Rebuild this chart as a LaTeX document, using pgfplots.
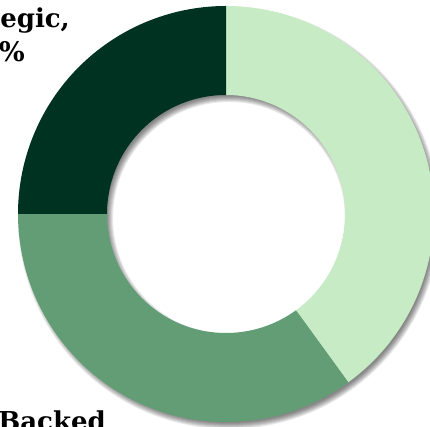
\documentclass[border=0pt]{standalone}
\usepackage{pgfplots}
\pgfplotsset{compat=1.18}
\usepackage{pgfplotstable}
\usepackage{fontspec}
\setmainfont{DejaVu Serif}

\definecolor{pielight}{RGB}{199,235,197}
\definecolor{piemid}{RGB}{98,157,117}
\definecolor{piedark}{RGB}{0,50,34}

% share of each slice, clockwise from 12 o'clock
\pgfplotstableread{
label value
Other 40
Backed 35
Strategic 25
}\piedata

\begin{document}
\begin{tikzpicture}
\pgfplotstablegetelem{0}{value}\of\piedata \pgfmathsetmacro\va{\pgfplotsretval}
\pgfplotstablegetelem{1}{value}\of\piedata \pgfmathsetmacro\vb{\pgfplotsretval}
\pgfplotstablegetelem{2}{value}\of\piedata \pgfmathsetmacro\vc{\pgfplotsretval}
\pgfmathsetmacro\aA{90}
\pgfmathsetmacro\aB{\aA-3.6*\va}
\pgfmathsetmacro\aC{\aB-3.6*\vb}
\pgfmathsetmacro\aD{\aC-3.6*\vc}
\def\cx{226}\def\cy{213}\def\R{208}\def\r{119}
\begin{axis}[
    name=ax,
    at={(0,0)}, anchor=south west,
    scale only axis,
    width=430pt, height=427pt,
    xmin=0, xmax=430, ymin=0, ymax=427,
    hide axis,
]
% soft shadow of the ring
\pgfplotsinvokeforeach{0,1,2,3,4,5,6}{
  \fill[black, opacity=0.085, even odd rule]
    (axis cs:{\cx+3},{\cy-4}) circle[radius={(\R-3+#1)*1pt}]
    (axis cs:{\cx+3},{\cy-4}) circle[radius={(\r+3-#1)*1pt}];
}
\fill[pielight] (axis cs:{\cx+\R*cos(\aA)},{\cy+\R*sin(\aA)})
  arc[start angle=\aA, end angle=\aB, radius=\R pt]
  -- (axis cs:{\cx+\r*cos(\aB)},{\cy+\r*sin(\aB)})
  arc[start angle=\aB, end angle=\aA, radius=\r pt] -- cycle;
\fill[piemid] (axis cs:{\cx+\R*cos(\aB)},{\cy+\R*sin(\aB)})
  arc[start angle=\aB, end angle=\aC, radius=\R pt]
  -- (axis cs:{\cx+\r*cos(\aC)},{\cy+\r*sin(\aC)})
  arc[start angle=\aC, end angle=\aB, radius=\r pt] -- cycle;
\fill[piedark] (axis cs:{\cx+\R*cos(\aC)},{\cy+\R*sin(\aC)})
  arc[start angle=\aC, end angle=\aD, radius=\R pt]
  -- (axis cs:{\cx+\r*cos(\aD)},{\cy+\r*sin(\aD)})
  arc[start angle=\aD, end angle=\aC, radius=\r pt] -- cycle;

\node[font=\bfseries\fontsize{26}{31}\selectfont, anchor=base east, inner sep=0pt]
  at (axis cs:70,399) {Strategic,};
\node[font=\bfseries\fontsize{27}{31}\selectfont, anchor=base east, inner sep=0pt]
  at (axis cs:25,365) {25\%};
\node[font=\bfseries\fontsize{26}{31}\selectfont, anchor=base east, inner sep=0pt]
  at (axis cs:106,-4) {Backed};
\end{axis}
\pgfresetboundingbox
\path[use as bounding box] (ax.south west) rectangle (ax.north east);
\end{tikzpicture}
\end{document}
